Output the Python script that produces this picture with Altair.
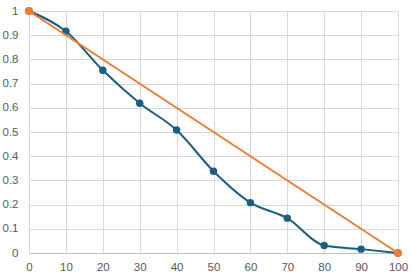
import altair as alt
import pandas as pd

x_vals = [0, 10, 20, 30, 40, 50, 60, 70, 80, 90, 100]
blue_vals = [1.0, 0.916, 0.755, 0.619, 0.508, 0.338, 0.208, 0.144, 0.031, 0.016, 0.0]
orange_x = [0, 100]
orange_vals = [1.0, 0.0]
x_ticks = list(range(0, 101, 10))
y_ticks = [i / 10 for i in range(11)]

blue_df = pd.DataFrame({"x": x_vals, "y": blue_vals})
orange_df = pd.DataFrame({"x": orange_x, "y": orange_vals})

BLUE = "#1B5E80"
ORANGE = "#ED7D31"

xscale = alt.Scale(domain=[0, 100], nice=False, zero=False)
yscale = alt.Scale(domain=[0, 1], nice=False)

xaxis = alt.Axis(values=x_ticks, title=None, labelFontSize=11.5,
                 labelColor="#595959", ticks=False, domainColor="#bfbfbf",
                 gridColor="#d9d9d9", labelPadding=8, labelFont="Liberation Sans",
                 labelFlush=False, labelOverlap=False)
yaxis = alt.Axis(values=y_ticks, format="~g", title=None, labelFontSize=11.5,
                 labelColor="#595959", ticks=False, domain=False,
                 gridColor="#d9d9d9", labelPadding=11, labelFont="Liberation Sans",
                 labelFlush=False, labelOverlap=False)

X = alt.X("x:Q", scale=xscale, axis=xaxis)
Y = alt.Y("y:Q", scale=yscale, axis=yaxis)

blue_line = alt.Chart(blue_df).mark_line(color=BLUE, strokeWidth=2, interpolate="monotone").encode(x=X, y=Y)
blue_pts = alt.Chart(blue_df).mark_circle(color=BLUE, size=55, opacity=1).encode(x=X, y=Y)
orange_line = alt.Chart(orange_df).mark_line(color=ORANGE, strokeWidth=2).encode(x=X, y=Y)
orange_pts = alt.Chart(orange_df).mark_circle(color=ORANGE, size=65, opacity=1).encode(x=X, y=Y)

chart = alt.layer(blue_line, blue_pts, orange_line, orange_pts).properties(
    width=369, height=242,
    autosize=alt.AutoSizeParams(type="none"),
    padding={"left": 29, "top": 11, "right": 13, "bottom": 23},
).configure_view(stroke=None).configure(background="white")

chart.save("out.html", embed_options={"renderer": "svg", "actions": False})
